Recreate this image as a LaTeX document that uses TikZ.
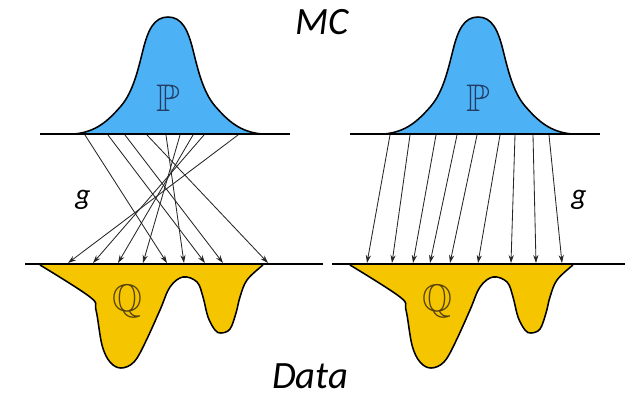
\documentclass[tikz,border=0pt]{standalone}
\usepackage{fontspec}
\setmainfont{Carlito}
\usepackage{amssymb}
\usepackage{graphicx}
\usetikzlibrary{arrows.meta, positioning}
\definecolor{mcblue}{RGB}{77,178,245}
\definecolor{datayellow}{RGB}{245,198,0}
\definecolor{pdark}{RGB}{35,60,100}
\definecolor{qdark}{RGB}{85,65,15}

\begin{document}
\begin{tikzpicture}[
      x=0.025cm, y=-0.025cm,
      line join=round,
      axis/.style={line width=1.6pt},
      curve/.style={draw=black, line width=1.1pt},
      arrow/.style={-{Stealth[length=2mm, width=1.3mm]}, line width=0.6pt, draw=black!85},
      heading/.style={font=\fontsize{27.5}{30}\selectfont\itshape},
      mapname/.style={font=\fontsize{21}{23}\selectfont\itshape},
      dist/.style={font=\fontsize{24.88}{28}\selectfont}
    ]
      \useasboundingbox (0,0) rectangle (625,396);

      % Densities, same shapes in both panels
      \foreach \dx in {0,310} {
        \begin{scope}[shift={(\dx,0)}]
          % MC density
          \path[curve, fill=mcblue] (74,134)
            .. controls (96,132) and (108,121) .. (121,106)
            .. controls (133,92) and (138,70) .. (143,50)
            .. controls (148,30) and (154,17) .. (168,17)
            .. controls (182,17) and (188,30) .. (193,50)
            .. controls (198,70) and (203,92) .. (215,106)
            .. controls (228,121) and (240,132) .. (262,134);
          % Data density
          \path[curve, fill=datayellow] plot[smooth, tension=0.6] coordinates {
            (40,265) (90,297) (96,310) (102,345) (110,362) (121,368) (134,362)
            (145,343) (160,310) (170,287) (183,277) (197,282) (203,297)
            (208,317) (215,330) (221,333) (230,329) (236,313) (240,297)
            (247,280) (263,265)};
          % Lines
          \draw[axis] (40,134) -- (290,134);
        \end{scope}
      }
      \draw[axis] (25,264) -- (323,264);
      \draw[axis] (332,264) -- (625,264);

      % Distribution names
      \node[dist, text=pdark] (P1) at (168,98) {\scalebox{1.1}{$\mathbb{P}$}};
      \node[dist, text=pdark] (P2) at (478,98) {\scalebox{1.1}{$\mathbb{P}$}};
      \node[dist, text=qdark] (Q1) at (127,301) {\scalebox{1.1}{$\mathbb{Q}$}};
      \node[dist, text=qdark] (Q2) at (437,301) {\scalebox{1.1}{$\mathbb{Q}$}};

      % Arrow end points, left panel
      \foreach \i/\xp/\xq in {1/85/68, 2/108/93, 3/125/118, 4/147/143, 5/166/167,
                              6/180/184, 7/193/205, 8/204/223, 9/238/268} {
        \coordinate (pa\i) at (\xp,135);
        \coordinate (qa\i) at (\xq,263);
      }
      % Arrow end points, right panel
      \foreach \i/\xp/\xq in {1/390/367, 2/410/392, 3/436/413, 4/457/430, 5/477/450,
                              6/500/478, 7/515/511, 8/533/536, 9/549/562} {
        \coordinate (pb\i) at (\xp,135);
        \coordinate (qb\i) at (\xq,263);
      }

      % Draw arrows
      \foreach \a/\b in {1/5, 2/7, 3/8, 4/9, 5/6, 6/4, 7/3, 8/2, 9/1}
        \draw[arrow] (pa\a) -- (qa\b);
      \foreach \a in {1,...,9}
        \draw[arrow] (pb\a) -- (qb\a);

      % Labels
      \node[heading] (mc) at (322,22) {MC};
      \node[heading] (data) at (310,376) {Data};
      \node[mapname] (g1) at (83,200) {g};
      \node[mapname] (g2) at (579,200) {g};
    \end{tikzpicture}
\end{document}
